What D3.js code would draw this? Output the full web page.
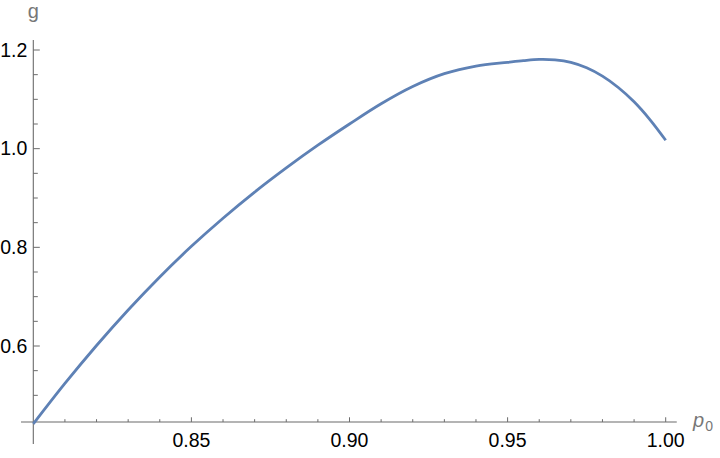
<!DOCTYPE html>
<html>
<head>
<meta charset="utf-8">
<script src="https://cdn.jsdelivr.net/npm/d3@7"></script>
<style>
  html, body { margin: 0; padding: 0; background: #fff; }
  svg { display: block; }
</style>
</head>
<body>
<svg id="chart" width="720" height="458"></svg>
<script>
// Data
const p0Values = [0.80, 0.81, 0.82, 0.83, 0.84, 0.85, 0.86, 0.87, 0.88, 0.89,
                  0.90, 0.91, 0.92, 0.93, 0.94, 0.95, 0.955, 0.96, 0.965, 0.97,
                  0.975, 0.98, 0.985, 0.99, 0.995, 1.00];
const gValues  = [0.442, 0.524, 0.601, 0.673, 0.740, 0.802, 0.859, 0.912, 0.961, 1.007,
                  1.050, 1.091, 1.126, 1.152, 1.1675, 1.175, 1.1785, 1.181, 1.180, 1.175,
                  1.164, 1.147, 1.124, 1.095, 1.059, 1.017];
const xMajorTicks = [0.85, 0.90, 0.95, 1.00];
const xTickLabels = ["0.85", "0.90", "0.95", "1.00"];
const xMinorTicks = [0.81, 0.82, 0.83, 0.84, 0.86, 0.87, 0.88, 0.89, 0.91, 0.92, 0.93, 0.94, 0.96, 0.97, 0.98, 0.99];
const yMajorTicks = [0.6, 0.8, 1.0, 1.2];
const yTickLabels = ["0.6", "0.8", "1.0", "1.2"];
const yMinorTicks = [0.50, 0.55, 0.65, 0.70, 0.75, 0.85, 0.90, 0.95, 1.05, 1.10, 1.15];
const xLabel = "p";
const xLabelSub = "0";
const yLabel = "g";

// Plot range (axis extents) and origin
const xRange = [0.7961, 1.0035];
const yRange = [0.4013, 1.2203];
const xOrigin = 0.8;
const yOrigin = 0.446;

const svg = d3.select("#chart");
const x = d3.scaleLinear().domain([0.8, 1.0]).range([33.3, 665.7]);
const y = d3.scaleLinear().domain([0.6, 1.2]).range([346, 50]);

const axisColor = "#6b6b6b";
const labelColor = "#000";
const font = "'Liberation Sans', Arial, Helvetica, sans-serif";

const g = svg.append("g");

// Axis lines
g.append("line")
  .attr("x1", x(xRange[0])).attr("x2", x(xRange[1]))
  .attr("y1", y(yOrigin)).attr("y2", y(yOrigin))
  .attr("stroke", axisColor).attr("stroke-width", 1.1);
g.append("line")
  .attr("x1", x(xOrigin)).attr("x2", x(xOrigin))
  .attr("y1", y(yRange[0])).attr("y2", y(yRange[1]))
  .attr("stroke", axisColor).attr("stroke-width", 1.1);

// X ticks
g.selectAll(".xmaj").data(xMajorTicks).enter().append("line")
  .attr("x1", d => x(d)).attr("x2", d => x(d))
  .attr("y1", y(yOrigin)).attr("y2", y(yOrigin) - 4.7)
  .attr("stroke", axisColor).attr("stroke-width", 1);
g.selectAll(".xmin").data(xMinorTicks).enter().append("line")
  .attr("x1", d => x(d)).attr("x2", d => x(d))
  .attr("y1", y(yOrigin)).attr("y2", y(yOrigin) - 2.8)
  .attr("stroke", axisColor).attr("stroke-width", 1);
g.selectAll(".xlab").data(xMajorTicks).enter().append("text")
  .attr("x", d => x(d)).attr("y", 447)
  .attr("text-anchor", "middle")
  .attr("font-family", font).attr("font-size", 19.5)
  .attr("fill", labelColor)
  .text((d, i) => xTickLabels[i]);

// Y ticks
g.selectAll(".ymaj").data(yMajorTicks).enter().append("line")
  .attr("x1", x(xOrigin)).attr("x2", x(xOrigin) + 6.5)
  .attr("y1", d => y(d)).attr("y2", d => y(d))
  .attr("stroke", axisColor).attr("stroke-width", 1);
g.selectAll(".ymin").data(yMinorTicks).enter().append("line")
  .attr("x1", x(xOrigin)).attr("x2", x(xOrigin) + 4.5)
  .attr("y1", d => y(d)).attr("y2", d => y(d))
  .attr("stroke", axisColor).attr("stroke-width", 1);
g.selectAll(".ylab").data(yMajorTicks).enter().append("text")
  .attr("x", x(xOrigin) - 6).attr("y", d => y(d) + 6.5)
  .attr("text-anchor", "end")
  .attr("font-family", font).attr("font-size", 19.5)
  .attr("fill", labelColor)
  .text((d, i) => yTickLabels[i]);

// Axis labels
g.append("text")
  .attr("x", x(xOrigin)).attr("y", 18)
  .attr("text-anchor", "middle")
  .attr("font-family", font).attr("font-size", 20)
  .attr("fill", "#777")
  .text(yLabel);
const xl = g.append("text")
  .attr("x", 693).attr("y", 427)
  .attr("font-family", font).attr("font-size", 20)
  .attr("fill", "#777");
xl.append("tspan").attr("font-style", "italic").text(xLabel);
xl.append("tspan").attr("font-size", 14).attr("dy", 4).attr("dx", 1).text(xLabelSub);

// Curve
const pts = p0Values.map((p, i) => [p, gValues[i]]);
const line = d3.line()
  .x(d => x(d[0])).y(d => y(d[1]))
  .curve(d3.curveCatmullRom.alpha(0.5));
g.append("path")
  .datum(pts)
  .attr("d", line)
  .attr("fill", "none")
  .attr("stroke", "#5E81B5")
  .attr("stroke-width", 2.8)
  .attr("stroke-linejoin", "round")
  .attr("stroke-linecap", "butt");
</script>
</body>
</html>
